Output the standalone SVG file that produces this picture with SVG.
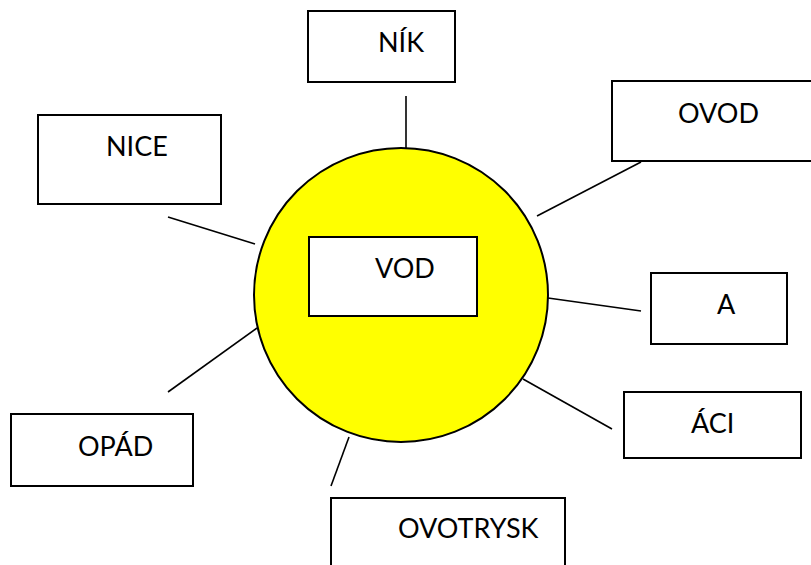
<svg xmlns="http://www.w3.org/2000/svg" width="811" height="565" viewBox="0 0 811 565">
<style>
.box{fill:#fff;stroke:#000;stroke-width:2}
.lbl{font-family:Lato,"Liberation Sans",sans-serif;font-size:27px;fill:#000}
.con line{stroke:#000;stroke-width:1.6}
</style>
<rect width="811" height="565" fill="#fff"/>
<g id="center">
<circle cx="401" cy="295" r="147" fill="#ffff00" stroke="#000" stroke-width="2"/>
<rect class="box" x="309" y="237" width="168" height="79"/>
<text class="lbl" x="375" y="278">VOD</text>
</g>
<g class="con" id="connectors">
<line x1="406" y1="96" x2="406" y2="148"/>
<line x1="641" y1="162" x2="537" y2="216"/>
<line x1="168" y1="217" x2="255" y2="244"/>
<line x1="548" y1="298" x2="641" y2="311"/>
<line x1="523" y1="379" x2="612" y2="429"/>
<line x1="168" y1="392" x2="257" y2="328"/>
<line x1="349" y1="437" x2="331" y2="486"/>
</g>
<g id="nik"><rect class="box" x="308" y="11" width="147" height="71"/><text class="lbl" x="378" y="52">NÍK</text></g>
<g id="ovod"><rect class="box" x="612" y="81" width="220" height="80"/><text class="lbl" x="678" y="123">OVOD</text></g>
<g id="nice"><rect class="box" x="38" y="115" width="183" height="89"/><text class="lbl" x="106" y="156">NICE</text></g>
<g id="a"><rect class="box" x="651" y="273" width="136" height="71"/><text class="lbl" x="717" y="314">A</text></g>
<g id="aci"><rect class="box" x="624" y="392" width="177" height="66"/><text class="lbl" x="691" y="433">ÁCI</text></g>
<g id="opad"><rect class="box" x="11" y="414" width="182" height="72"/><text class="lbl" x="78" y="456">OPÁD</text></g>
<g id="ovotrysk"><rect class="box" x="331" y="498" width="234" height="90"/><text class="lbl" x="398" y="538">OVOTRYSK</text></g>
</svg>
